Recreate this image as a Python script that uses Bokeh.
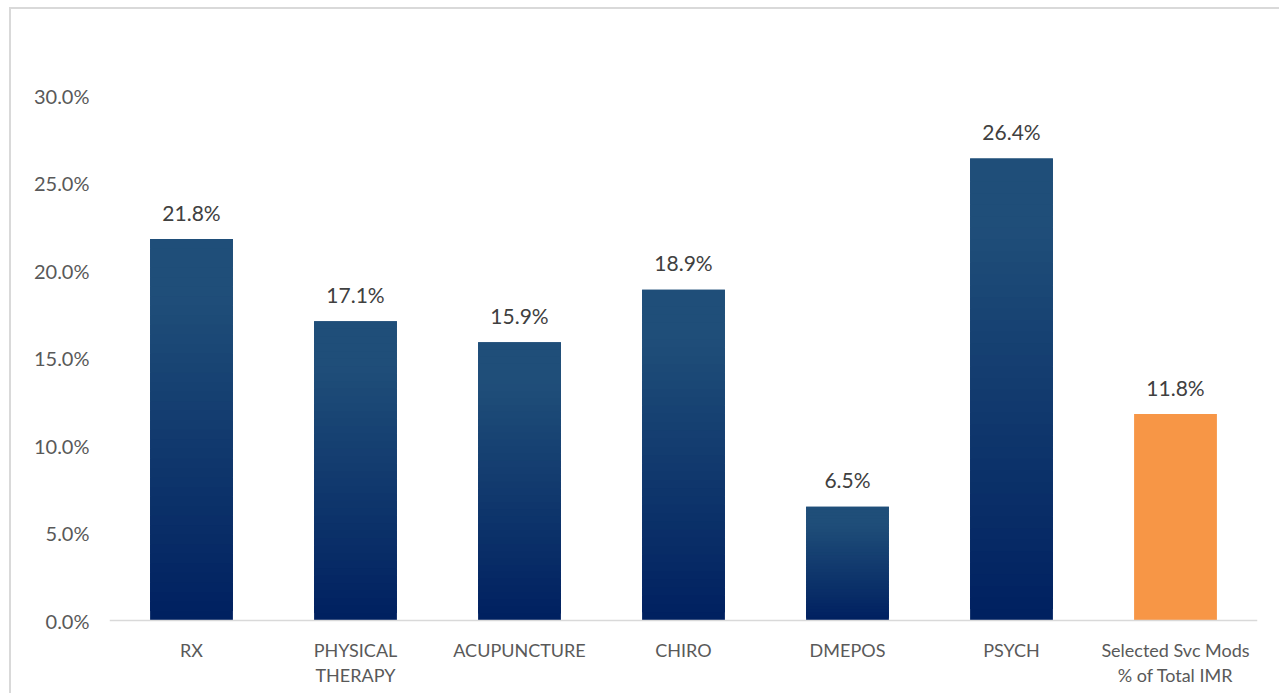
from bokeh.plotting import figure
from bokeh.models import ColumnDataSource, FactorRange, Range1d, FixedTicker, NumeralTickFormatter, Span
from bokeh.core.properties import value
from bokeh.embed import file_html
from bokeh.resources import INLINE

categories = ["RX", "PHYSICAL THERAPY", "ACUPUNCTURE", "CHIRO", "DMEPOS", "PSYCH",
              "Selected Svc Mods % of Total IMR"]
tick_labels = ["RX", "PHYSICAL\nTHERAPY", "ACUPUNCTURE", "CHIRO", "DMEPOS", "PSYCH",
               "Selected Svc Mods\n% of Total IMR"]
values = [0.218, 0.171, 0.159, 0.189, 0.065, 0.264, 0.118]
value_labels = ["21.8%", "17.1%", "15.9%", "18.9%", "6.5%", "26.4%", "11.8%"]
y_ticks = [0.0, 0.05, 0.10, 0.15, 0.20, 0.25, 0.30]
highlight = [False, False, False, False, False, False, True]

FONT = "Lato"
TOP_RGB = (31, 78, 121)
BOT_RGB = (0, 32, 96)
ORANGE = "#F79646"
N = 40

# gradient slices derived from the data values
xs, bots, tops, cols = [], [], [], []
for cat, v, hl in zip(categories, values, highlight):
    if hl:
        xs.append(cat); bots.append(0.0); tops.append(v); cols.append(ORANGE)
        continue
    for i in range(N):
        t = (i + 0.5) / N
        w = min(1.0, t / 0.85)
        rgb = tuple(int(round(b + (a - b) * w)) for a, b in zip(TOP_RGB, BOT_RGB))
        xs.append(cat)
        bots.append(v * i / N)
        tops.append(min(v, v * (i + 2) / N))
        cols.append("#%02x%02x%02x" % rgb)

slices = ColumnDataSource(dict(x=xs, bottom=bots, top=tops, color=cols))
labels = ColumnDataSource(dict(x=categories, y=values, text=value_labels))
cat_labels = ColumnDataSource(dict(x=categories, y=[0.0] * len(categories), text=tick_labels))

p = figure(x_range=FactorRange(*categories, range_padding=0),
           y_range=Range1d(-0.0411, 0.30),
           width=1270, height=686,
           output_backend="svg", toolbar_location=None,
           min_border_left=98, min_border_right=24,
           min_border_top=86, min_border_bottom=3)

p.vbar(x="x", bottom="bottom", top="top", width=0.505, source=slices,
       fill_color="color", line_color=None)

p.add_layout(Span(location=0, dimension="width", line_color="#D9D9D9", line_width=1.5))

p.text(x="x", y="y", text="text", source=labels, text_align="center",
       text_baseline="alphabetic", y_offset=-27, text_font=value(FONT),
       text_font_size="21px", text_color="#404040")

p.text(x="x", y="y", text="text", source=cat_labels, text_align="center",
       text_baseline="top", y_offset=18, text_line_height=1.15, text_font=value(FONT),
       text_font_size="18px", text_color="#595959")

p.xaxis.visible = False
p.xgrid.visible = False
p.ygrid.visible = False
p.outline_line_color = None
p.background_fill_color = "white"
p.border_fill_color = "white"

p.yaxis.ticker = FixedTicker(ticks=y_ticks)
p.yaxis.formatter = NumeralTickFormatter(format="0.0%")
p.yaxis.axis_line_color = None
p.yaxis.major_tick_line_color = None
p.yaxis.minor_tick_line_color = None
p.yaxis.major_label_standoff = 14
p.yaxis.major_label_text_font = FONT
p.yaxis.major_label_text_font_size = "20px"
p.yaxis.major_label_text_color = "#595959"

p.styles = {"margin-top": "7px", "margin-left": "9px",
            "border-top": "2px solid #D9D9D9", "border-left": "2px solid #D9D9D9"}

open("out.html", "w").write(file_html(p, INLINE))
